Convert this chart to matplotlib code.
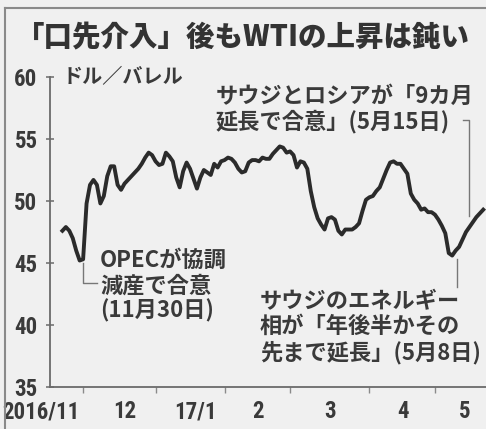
import matplotlib
matplotlib.use('Agg')
import matplotlib.pyplot as plt
from matplotlib import font_manager
from matplotlib.lines import Line2D

# x = trading-day index, 0 = 2016/12/1
days = list(range(-6, 117))
prices = [
    47.6, 47.9, 47.6, 47.0, 46.0, 45.2, 45.3, 49.8, 51.3, 51.7,
    51.3, 49.8, 50.4, 52.0, 52.8, 52.8, 51.3, 50.9, 51.4, 51.7,
    52.0, 52.3, 52.6, 53.0, 53.5, 53.9, 53.7, 53.2, 52.9, 53.0,
    53.9, 53.6, 53.2, 51.9, 51.1, 52.4, 53.1, 52.6, 51.8, 51.0,
    51.9, 52.5, 52.3, 52.1, 53.0, 52.7, 53.2, 53.3, 53.5, 53.4,
    53.1, 52.6, 52.3, 52.4, 53.1, 53.3, 53.3, 53.2, 53.5, 53.4,
    53.4, 53.8, 54.1, 54.4, 54.3, 53.9, 54.0, 53.7, 52.7, 53.2,
    53.1, 52.6, 50.8, 49.5, 48.6, 48.1, 47.7, 48.6, 48.7, 48.5,
    47.6, 47.3, 47.7, 47.7, 47.7, 47.9, 48.2, 49.2, 50.1, 50.3,
    50.4, 50.8, 51.1, 51.8, 52.5, 53.1, 53.2, 53.0, 53.0, 52.6,
    52.2, 50.6, 50.1, 49.8, 49.3, 49.4, 49.1, 49.1, 48.9, 48.5,
    48.0, 47.4, 45.8, 45.6, 46.0, 46.3, 46.9, 47.5, 47.9, 48.3,
    48.7, 49.0, 49.3,
]
month_starts = [0, 21, 41, 60, 83, 102]
month_labels = ['2016/11', '12', '17/1', '2', '3', '4', '5']
month_label_pos = [-12.3, 12.2, 32.5, 50.7, 71.6, 92.8, 110.7]
y_ticks = [35, 40, 45, 50, 55, 60]

title = '「口先介入」後もWTIの上昇は鈍い'
unit = 'ドル／バレル'
notes = [
    # text, x, y (block centre), leader line (xs, ys)
    ('OPECが協調\n減産で合意\n(11月30日)', 4.9, 43.15, ([0, 0, 4.1], [45.0, 43.4, 43.4])),
    ('サウジとロシアが「9カ月\n延長で合意」(5月15日)', 38.3, 57.4, ([110.1, 111.9, 111.9], [56.5, 56.5, 48.8])),
    ('サウジのエネルギー\n相が「年後半かその\n先まで延長」(5月8日)', 51.3, 39.84, ([108.4, 108.4], [45.3, 43.1])),
]

ink = '#3a3a3a'
bg = '#f0f0f0'

# narrow digits if some condensed face is installed
num_kw = dict(family=['Noto Sans CJK JP'], fontweight='bold', fontsize=14)
for name in ['Roboto Condensed', 'Liberation Sans Narrow', 'Open Sans Condensed', 'DejaVu Sans Condensed']:
    try:
        font_manager.findfont(name, fallback_to_default=False)
    except ValueError:
        continue
    num_kw = dict(family=[name], fontweight='bold', fontsize=16.5)
    break
jp_family = ['Noto Sans CJK JP', 'DejaVu Sans']

fig = plt.figure(figsize=(4.86, 4.29), dpi=100, facecolor=bg)
ax = fig.add_axes([50 / 486, 42 / 429, 436 / 486, 310 / 429])
ax.set_facecolor(bg)

ax.plot(days, prices, color='#2b2b2b', lw=2.8, solid_joinstyle='round', zorder=3)

ax.set_xlim(-9.6, 116.8)
ax.set_ylim(35, 60)

for s in ['top', 'right']:
    ax.spines[s].set_visible(False)
for s in ['left', 'bottom']:
    ax.spines[s].set_color('#6a6a6a')
    ax.spines[s].set_linewidth(1.3)

ax.set_yticks(y_ticks)
ax.set_yticklabels([str(v) for v in y_ticks], color=ink, **num_kw)
ax.tick_params(axis='y', direction='inout', length=6, width=1.1, color='#6a6a6a', pad=6)

ax.set_xticks(month_starts)
ax.set_xticklabels([])
ax.tick_params(axis='x', direction='out', length=4, width=1.0, color='#8a8a8a')
for lab, pos in zip(month_labels, month_label_pos):
    ax.text(pos, -0.08, lab, transform=ax.get_xaxis_transform(), ha='center', va='center',
            color=ink, clip_on=False, **num_kw)

ax.text(0.028, 1.0, unit, transform=ax.transAxes, ha='left', va='center',
        family=jp_family, fontsize=14.5, color=ink, fontweight='bold')

for txt, x, y, (lx, ly) in notes:
    ax.text(x, y, txt, ha='left', va='center', family=jp_family,
            fontsize=16, color=ink, fontweight='bold', linespacing=1.12, zorder=4)
    ax.plot(lx, ly, color='#777777', lw=1.0, clip_on=False)

fig.text(0.5, 0.912, title, ha='center', va='center', family=jp_family,
         fontsize=20.5, fontweight='black', color='#333333')

# newspaper frame
fig.add_artist(Line2D([5 / 486, 5 / 486], [0, 1 - 8 / 429], color='#8a8a8a', lw=1.5))
fig.add_artist(Line2D([5 / 486, 1], [1 - 8 / 429, 1 - 8 / 429], color='#8a8a8a', lw=1.5))

fig.savefig('out.png', dpi=100, facecolor=bg)
